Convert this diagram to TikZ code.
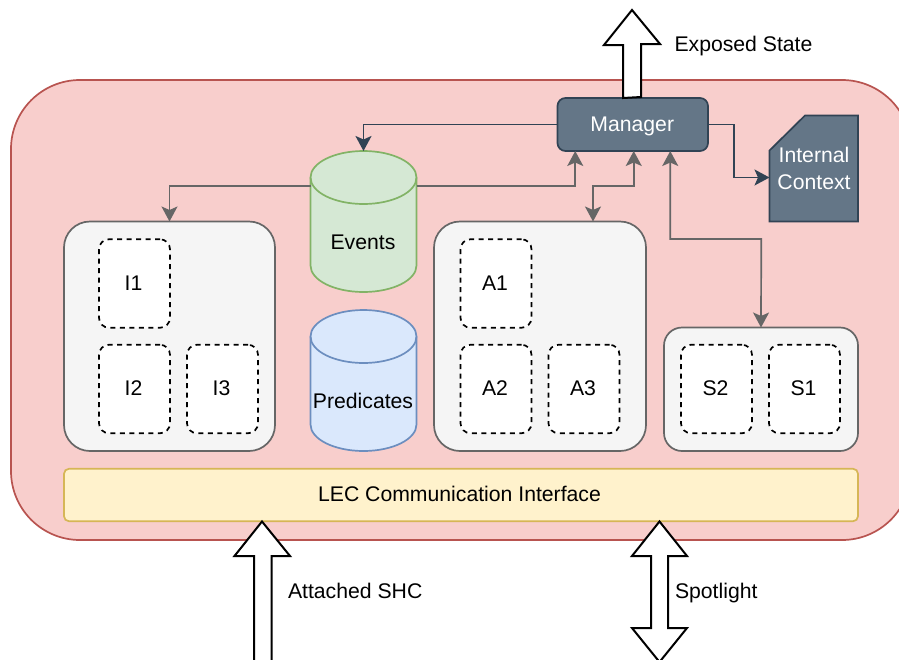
\documentclass[tikz,border=0pt]{standalone}
\usepackage{fontspec}
\setmainfont{Liberation Sans}
\usetikzlibrary{arrows.meta}
\definecolor{redfill}{HTML}{F8CECC}\definecolor{redline}{HTML}{B85450}
\definecolor{slatefill}{HTML}{647687}\definecolor{slateline}{HTML}{314354}
\definecolor{greyfill}{HTML}{F5F5F5}\definecolor{greyline}{HTML}{666666}
\definecolor{greenfill}{HTML}{D5E8D4}\definecolor{greenline}{HTML}{82B366}
\definecolor{bluefill}{HTML}{DAE8FC}\definecolor{blueline}{HTML}{6C8EBF}
\definecolor{yellowfill}{HTML}{FFF2CC}\definecolor{yellowline}{HTML}{D6B656}
\tikzset{
  x=1pt,y=-1pt,
  every node/.style={font=\fontsize{21.2}{26}\selectfont,inner sep=0pt,outer sep=0pt,text height=13pt,text depth=0pt},
  sized/.style n args={2}{minimum width=#1,minimum height=#2},
  group/.style={draw=greyline,fill=greyfill,line width=1.7pt,rounded corners=#1},
  group/.default=26pt,
  slot/.style={draw=black,fill=white,line width=1.7pt,dash pattern=on 5pt off 4.5pt,rounded corners=10pt,sized={71pt}{88.5pt},execute at begin node=\kern-2pt},
  tipa/.tip={Stealth[length=15pt,width=16pt,inset=3.5pt]},
  greylink/.style={draw=greyline,line width=1.7pt},
  slatelink/.style={draw=slateline,line width=1.7pt},
  blockarrow/.style={draw=black,fill=white,line width=2pt,line join=miter},
  caption/.style={anchor=base west,text height=,text depth=}
}
\newcommand{\cylpath}[3]{%
  \draw[fill=#2,draw=#3,line width=1.7pt]
    ([yshift=-26.5pt]#1.north west) arc[start angle=180,end angle=0,x radius=53pt,y radius=26.5pt]
    -- ([yshift=26.5pt]#1.south east) arc[start angle=0,end angle=-180,x radius=53pt,y radius=26.5pt] -- cycle;
  \draw[draw=#3,line width=1.7pt]
    ([yshift=-26.5pt]#1.north west) arc[start angle=180,end angle=360,x radius=53pt,y radius=26.5pt];
}
\begin{document}
\begin{tikzpicture}
\useasboundingbox (0,0) rectangle (899,659);
\clip (0,0) rectangle (899,659);
% body
\node[draw=redline,fill=redfill,line width=1.7pt,rounded corners=69pt,sized={900pt}{460pt}] (body) at (461,310) {};
% exposed state arrow
\coordinate (etip) at (632,10);
\node[fill=slatefill,draw=slateline,line width=1.7pt,rounded corners=8pt,sized={150.5pt}{53pt},text=white,execute at begin node=\kern-1pt] (mgr) at (632.75,124.5) {Manager};
\draw[blockarrow] (mgr.north -| etip) ++(-9,0) -- ++(0,-53) -- ++(-19,0) -- (etip) -- ++(28,34) -- ++(-19,0) -- ++(0,53) -- cycle;
\node[caption] (lexposed) at (674.5,51) {Exposed State};
% internal context
\node[sized={88.5pt}{106pt}] (ctx) at (813.75,168.5) {};
\draw[fill=slatefill,draw=slateline,line width=1.7pt,line join=miter]
  ([xshift=35.5pt]ctx.north west) -- (ctx.north east) -- (ctx.south east) -- (ctx.south west) -- ([yshift=-35pt]ctx.north west) -- cycle;
\node[text=white,align=center,anchor=base,text height=,text depth=] (lctx) at (814,189) {Internal\\[0.6pt]Context};
% cylinders
\node[sized={106pt}{141pt}] (events) at (363.5,221.5) {};
\cylpath{events}{greenfill}{greenline}
\node[anchor=base,text height=,text depth=] (levents) at (363,249) {Events};
\node[sized={106pt}{141pt}] (preds) at (363.5,380.5) {};
\cylpath{preds}{bluefill}{blueline}
\node[anchor=base,text height=,text depth=] (lpreds) at (363,408) {Predicates};
% groups
\node[group,sized={211pt}{229.5pt}] (gi) at (169.5,336.25) {};
\node[group,sized={212pt}{229.5pt}] (ga) at (540,336.25) {};
\node[group=18pt,sized={194pt}{123.5pt}] (gs) at (761,389.25) {};
% slots
\node[slot] (i1) at (134.5,283.5) {I1};
\node[slot] (i2) at (134.5,389) {I2};
\node[slot] (i3) at (222.5,389) {I3};
\node[slot] (a1) at (496,283.5) {A1};
\node[slot] (a2) at (496,389) {A2};
\node[slot] (a3) at (584,389) {A3};
\node[slot] (s2) at (716.5,389) {S2};
\node[slot] (s1) at (804.5,389) {S1};
% LEC
\node[draw=yellowline,fill=yellowfill,line width=1.7pt,rounded corners=5pt,sized={794pt}{52.5pt}] (lec) at (461,495) {};
\node[anchor=base,text height=,text depth=] (llec) at (459.5,501) {LEC Communication Interface};
% connectors
\draw[slatelink,-tipa] (mgr.west) -| (events.north);
\draw[slatelink,-tipa] (mgr.east) -- ++(26,0) |- ([yshift=-9pt]ctx.west);
\draw[greylink,-tipa] ([yshift=35.5pt]events.west) -| (gi.north);
\draw[greylink,-tipa] ([yshift=35.5pt]events.east) -| ([xshift=-57.5pt]mgr.south);
\draw[greylink,tipa-tipa] ([xshift=1pt]mgr.south) -- ++(0,35) -| ([xshift=53pt]ga.north);
\draw[greylink,tipa-tipa] ([xshift=37.5pt]mgr.south) |- ++(91,88) -- (gs.north);
% lower block arrows
\coordinate (stip) at (262,521.5);
\draw[blockarrow] (stip) -- ++(28,34.5) -- ++(-18.5,0) -- (271.5,672) -- (254,672) -- (254,556) -- (234.5,556) -- cycle;
\node[caption] (lshc) at (288,598) {Attached SHC};
\coordinate (ptip) at (659.5,521.5);
\coordinate (pbot) at (659.5,662);
\draw[blockarrow] (ptip) -- ++(27.5,34.5) -- ++(-19,0) -- ++(0,72) -- ++(19,0) -- (pbot) -- ++(-27.5,-34) -- ++(19,0) -- ++(0,-72) -- ++(-19,0) -- cycle;
\node[caption] (lspot) at (675,598) {Spotlight};
\end{tikzpicture}
\end{document}
